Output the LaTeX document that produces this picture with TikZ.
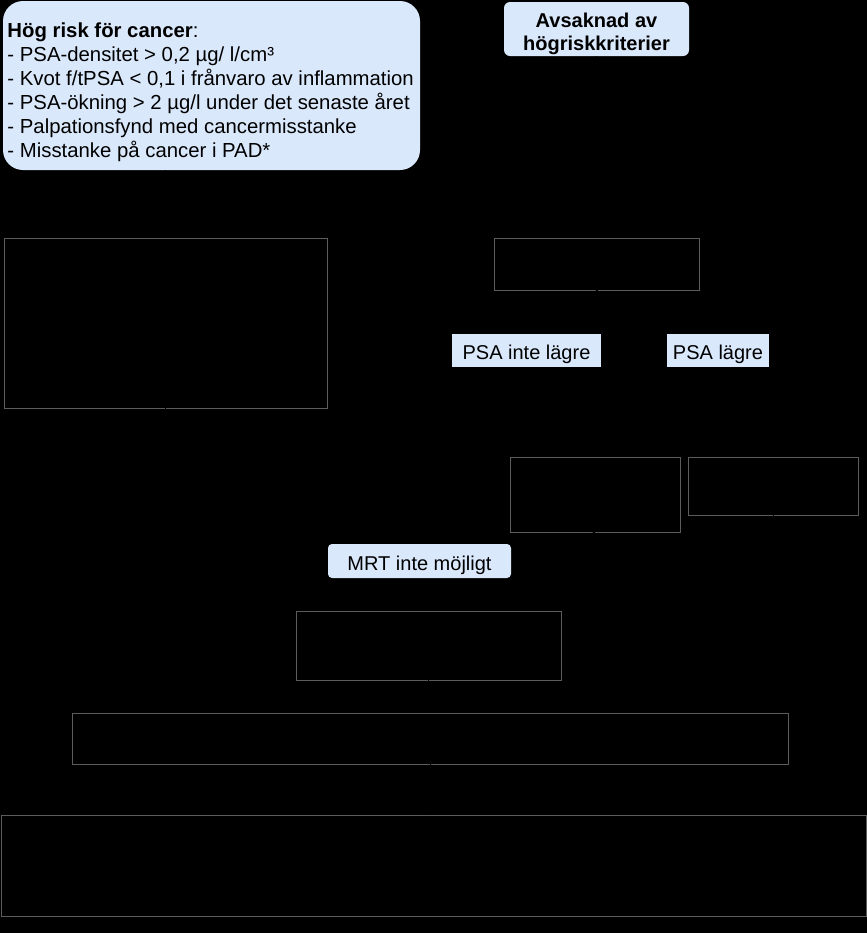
\documentclass[tikz,border=0pt]{standalone}
\usepackage{fontspec}
\setmainfont{Liberation Sans}
\usetikzlibrary{arrows.meta}
\definecolor{lblblue}{RGB}{218,232,252}
\definecolor{boxgray}{RGB}{92,92,92}
\tikzset{every picture/.style={line width=0.75pt}}
\tikzset{
	emptybox/.style={draw=boxgray, inner sep=0pt, outer sep=0pt},
	bluebox/.style={fill=lblblue, draw=none, inner sep=0pt, outer sep=0pt, font=\fontsize{15}{18}\selectfont, text height=15.5pt, text depth=2pt},
	conn/.style={draw=black, -{Stealth[length=7pt,width=6pt]}}}

\begin{document}
\begin{tikzpicture}[x=0.75pt,y=0.75pt,yscale=-1,xscale=1]
	%set diagram area, black page
	\useasboundingbox (0,0) rectangle (867,933);
	\fill[black] (0,0) rectangle (867,933);

	%Shape: Rounded Rect [id:risk] 
	\node[bluebox, rounded corners=15pt, minimum width=312.75pt, minimum height=126.75pt, text height=, text depth=] (risk) at (211.5,85.5) {};
	% Text Node
	\node[anchor=west, inner sep=0pt, align=left, font=\fontsize{15.25}{18}\selectfont] (risktext) at (7,92) {\textbf{Hög risk för cancer}:\\- PSA-densitet > 0,2 µg/ l/cm³\\- Kvot f/tPSA < 0,1 i frånvaro av inflammation\\- PSA-ökning > 2 µg/l under det senaste året\\- Palpationsfynd med cancermisstanke\\- Misstanke på cancer i PAD*};
	%Shape: Rounded Rect [id:avs] 
	\node[bluebox, rounded corners=4.5pt, minimum width=138.75pt, minimum height=40.5pt, text height=, text depth=] (avs) at (596.5,29) {};
	% Text Node
	\node[inner sep=0pt, align=center, font=\fontsize{15}{17.5}\selectfont\bfseries] (avstext) at (596.5,34) {Avsaknad av\\högriskkriterier};

	%Shape: Rectangle [id:bigL] 
	\node[emptybox, minimum width=242.25pt, minimum height=127.5pt] (bigL) at (165.5,323) {};
	%Shape: Rectangle [id:r1] 
	\node[emptybox, minimum width=153.75pt, minimum height=39pt] (r1) at (596.5,264) {};
	%Shape: Rectangle [id:l2] 
	\node[emptybox, minimum width=127.5pt, minimum height=56.25pt] (l2) at (595,494.5) {};
	%Shape: Rectangle [id:r2] 
	\node[emptybox, minimum width=127.5pt, minimum height=43.5pt] (r2) at (773,486) {};
	%Shape: Rectangle [id:m] 
	\node[emptybox, minimum width=198.75pt, minimum height=51.75pt] (m) at (428.5,645.5) {};
	%Shape: Rectangle [id:wide] 
	\node[emptybox, minimum width=537pt, minimum height=38.25pt] (wide) at (430,738.5) {};
	%Shape: Rectangle [id:bot] 
	\node[emptybox, minimum width=648.75pt, minimum height=75.75pt] (bot) at (433.5,865.5) {};

	%Straight Lines 
	\draw[conn] (risk.south -| bigL.north) -- (bigL.north);
	\draw[conn] (avs.south) -- (r1.north);
	\draw[conn] (r1.south) -- (l2.north);
	\draw[conn] (r1.south) -- (r2.north);
	\draw[conn] (l2.south) -- (m.north);
	\draw[conn] (bigL.south) -- (bigL.south |- wide.north);
	\draw[conn] (r2.south) -- (r2.south |- wide.north);
	\draw[conn] (m.south) -- (m.south |- wide.north);
	\draw[conn] (wide.south) -- (wide.south |- bot.north);

	% Text Node
	\node[bluebox, minimum width=111.75pt, minimum height=24.75pt] (lblinte) at (526.5,350.5) {PSA inte lägre};
	% Text Node
	\node[bluebox, minimum width=76.5pt, minimum height=24.75pt] (lbllagre) at (718,350.5) {PSA lägre};
	% Text Node
	\node[bluebox, rounded corners=3pt, minimum width=137.25pt, minimum height=25.5pt] (lblmrt) at (419.5,561) {MRT inte möjligt};

\end{tikzpicture}
\end{document}
